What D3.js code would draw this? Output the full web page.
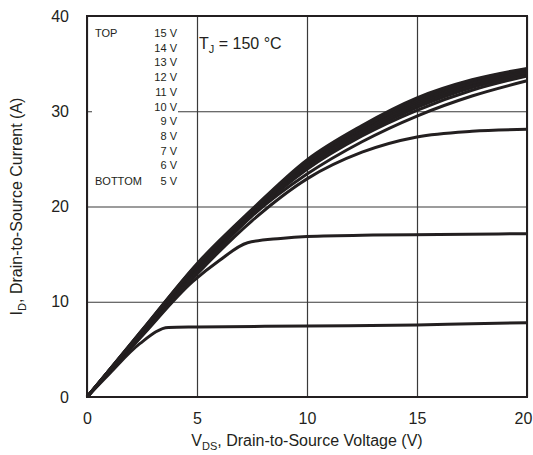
<!DOCTYPE html>
<html>
<head>
<meta charset="utf-8">
<script src="https://cdn.jsdelivr.net/npm/d3@7"></script>
<style>
    html, body { margin: 0; padding: 0; background: #fff; }
    svg { display: block; font-family: "Liberation Sans", Arial, sans-serif; }
    .axis text { fill: #231f20; font-size: 16px; }
    .grid line { stroke: #3a3a3a; stroke-width: 1.2; }
</style>
</head>
<body>
<div id="chart"></div>
<script>
// drain current (A), per gate voltage
const vdsGrid = [0, 1, 2.5, 5, 7.5, 10, 12.5, 15, 17.5, 20];
const id15 = [0, 2.8, 7.0, 14.0, 19.7, 24.9, 28.5, 31.4, 33.3, 34.5];
const id14 = [0, 2.8, 7.0, 13.9, 19.6, 24.7, 28.3, 31.2, 33.2, 34.4];
const id13 = [0, 2.8, 6.9, 13.8, 19.5, 24.6, 28.2, 31.0, 33.0, 34.3];
const id12 = [0, 2.8, 6.9, 13.7, 19.4, 24.4, 28.0, 30.8, 32.9, 34.1];
const id11 = [0, 2.7, 6.8, 13.6, 19.3, 24.3, 27.8, 30.6, 32.7, 34.0];
const id10 = [0, 2.7, 6.8, 13.5, 19.2, 24.1, 27.6, 30.4, 32.5, 33.8];
const id9 = [0, 2.7, 6.7, 13.3, 19.1, 23.9, 27.4, 30.1, 32.2, 33.7];
const id8 = [0, 2.7, 6.6, 13.1, 19.0, 23.4, 26.8, 29.5, 31.6, 33.2];
const id7 = [0, 2.6, 6.5, 12.9, 18.5, 22.9, 25.7, 27.3, 27.9, 28.1];
const vds6 = [0, 1, 2.5, 4.8, 6, 7.3, 8.8, 10, 13, 16, 20];
const id6 = [0, 2.6, 6.4, 12.1, 14.3, 16.2, 16.65, 16.85, 17.0, 17.05, 17.15];
const vds5 = [0, 1, 2.4, 3.7, 5, 10, 15, 17.5, 20];
const id5 = [0, 2.4, 5.6, 7.3, 7.35, 7.45, 7.55, 7.7, 7.8];

const xTicks = [0, 5, 10, 15, 20];
const yTicks = [0, 10, 20, 30, 40];
const legendLabels = ['15 V', '14 V', '13 V', '12 V', '11 V', '10 V', '9 V', '8 V', '7 V', '6 V', '5 V'];

const zip = (xs, ys) => xs.map((x, i) => [x, ys[i]]);
const curves = [
    zip(vds5, id5), zip(vds6, id6), zip(vdsGrid, id7), zip(vdsGrid, id8),
    zip(vdsGrid, id9), zip(vdsGrid, id10), zip(vdsGrid, id11), zip(vdsGrid, id12),
    zip(vdsGrid, id13), zip(vdsGrid, id14), zip(vdsGrid, id15),
];

const outerWidth = 533;
const outerHeight = 455;
const margin = { top: 16, right: 6, bottom: 58, left: 87 };
const width = 440;
const height = 381;

const svg = d3.select('#chart').append('svg')
    .attr('width', outerWidth)
    .attr('height', outerHeight);
const g = svg.append('g')
    .attr('transform', `translate(${margin.left},${margin.top})`);

const x = d3.scaleLinear().domain([0, 20]).range([0, width]);
const y = d3.scaleLinear().domain([0, 40]).range([height, 0]);

// grid lines (ticks stretched across the plot)
g.append('g')
    .attr('class', 'grid')
    .attr('transform', `translate(0,${height})`)
    .call(d3.axisBottom(x).tickValues(xTicks).tickSize(-height).tickFormat(''))
    .call((s) => s.select('.domain').remove());
g.append('g')
    .attr('class', 'grid')
    .call(d3.axisLeft(y).tickValues(yTicks).tickSize(-width).tickFormat(''))
    .call((s) => s.select('.domain').remove());

// tick labels
g.append('g')
    .attr('class', 'axis x')
    .attr('transform', `translate(0,${height})`)
    .call(d3.axisBottom(x).tickValues(xTicks).tickSize(0).tickPadding(16))
    .call((s) => s.select('.domain').remove())
    // last label sits against the page edge
    .call((s) => s.selectAll('.tick:last-of-type text').attr('dx', -4));
g.append('g')
    .attr('class', 'axis y')
    .call(d3.axisLeft(y).tickValues(yTicks).tickSize(0).tickPadding(18))
    .call((s) => s.select('.domain').remove());

// legend block blanks out the grid behind it
g.append('rect')
    .attr('x', 5).attr('y', 6)
    .attr('width', 86).attr('height', 172)
    .attr('fill', '#fff');

const line = d3.line()
    .x((d) => x(d[0]))
    .y((d) => y(d[1]))
    .curve(d3.curveMonotoneX);

g.append('g')
    .selectAll('path')
    .data(curves)
    .join('path')
    .attr('d', line)
    .attr('fill', 'none')
    .attr('stroke', '#231f20')
    .attr('stroke-width', 3)
    .attr('stroke-linejoin', 'round');

// frame
g.append('rect')
    .attr('width', width).attr('height', height)
    .attr('fill', 'none')
    .attr('stroke', '#231f20')
    .attr('stroke-width', 2);

// legend text
const legend = g.append('g')
    .attr('font-size', 11)
    .attr('fill', '#231f20');
legend.append('text').attr('x', 8).attr('y', 21).text('TOP');
legend.append('text').attr('x', 8).attr('y', 169).text('BOTTOM');
legend.selectAll('.lv')
    .data(legendLabels)
    .join('text')
    .attr('class', 'lv')
    .attr('x', 90)
    .attr('y', (d, i) => (i < 10 ? 21 + i * 14.7 : 169))
    .attr('text-anchor', 'end')
    .text((d) => d);

const tj = g.append('text')
    .attr('x', 112).attr('y', 33)
    .attr('font-size', 16)
    .attr('fill', '#231f20');
tj.append('tspan').text('T');
tj.append('tspan').attr('font-size', 11).attr('dy', 4).text('J');
tj.append('tspan').attr('dy', -4).text(' = 150 °C');

// axis titles
const xt = svg.append('text')
    .attr('x', margin.left + width / 2)
    .attr('y', 446)
    .attr('text-anchor', 'middle')
    .attr('font-size', 16)
    .attr('fill', '#231f20');
xt.append('tspan').text('V');
xt.append('tspan').attr('font-size', 11).attr('dy', 4).text('DS');
xt.append('tspan').attr('dy', -4).text(', Drain-to-Source Voltage (V)');

const yt = svg.append('text')
    .attr('transform', `translate(22,${margin.top + height / 2}) rotate(-90)`)
    .attr('text-anchor', 'middle')
    .attr('font-size', 16)
    .attr('fill', '#231f20');
yt.append('tspan').text('I');
yt.append('tspan').attr('font-size', 11).attr('dy', 4).text('D');
yt.append('tspan').attr('dy', -4).text(', Drain-to-Source Current (A)');
</script>
</body>
</html>
